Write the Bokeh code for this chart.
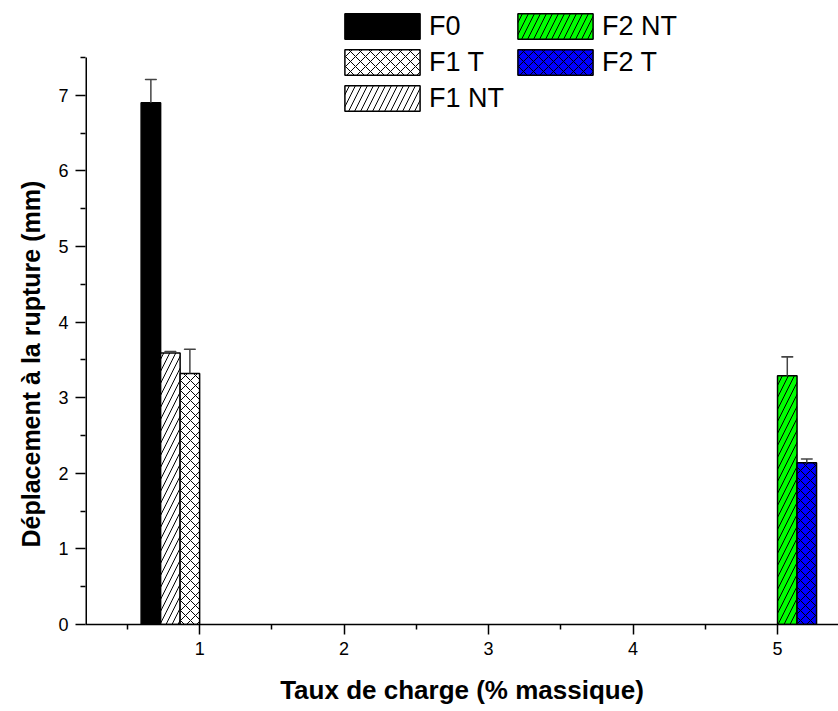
from bokeh.plotting import figure
from bokeh.models import ColumnDataSource, Legend, LegendItem, FixedTicker, Range1d, Title
from bokeh.embed import file_html
from bokeh.resources import INLINE

# ---- data ----
series = ["F0", "F1 NT", "F1 T", "F2 NT", "F2 T"]
taux = [1, 1, 1, 5, 5]
deplacement = [6.90, 3.59, 3.32, 3.29, 2.14]
erreur = [0.31, 0.02, 0.32, 0.25, 0.05]
x_ticks = [1, 2, 3, 4, 5]
y_ticks = [0, 1, 2, 3, 4, 5, 6, 7]
Y_AXIS_TOP = 7.5
x_title = "Taux de charge (% massique)"
y_title = "Déplacement à la rupture (mm)"

# ---- styles / layout ----
BAR_W = 0.135
X0 = 0.21
slot = {"F0": -2.5, "F1 NT": -1.5, "F1 T": -0.5, "F2 NT": 0.5, "F2 T": 1.5}
fills = {"F0": "black", "F1 NT": "white", "F1 T": "white", "F2 NT": "#00ff00", "F2 T": "#0000ff"}
hatch = {"F0": None, "F1 NT": "/", "F1 T": "x", "F2 NT": "/", "F2 T": "x"}
FONT = "Liberation Sans"

# frame reaches the top of the canvas so the legend is not clipped;
# the visible y axis line is drawn only up to Y_AXIS_TOP
p = figure(width=838, height=711, output_backend="svg", toolbar_location=None,
           x_range=Range1d(X0, 5.422), y_range=Range1d(0, 8.254),
           min_border_left=85, min_border_right=0, min_border_top=0, min_border_bottom=87)
p.outline_line_color = None
p.grid.visible = False
p.background_fill_color = "white"

renderers = {}
for s, t, v, e in zip(series, taux, deplacement, erreur):
    xc = t + slot[s] * BAR_W
    src = ColumnDataSource(dict(x=[xc], top=[v], err=[v + e]))
    kw = dict(x="x", top="top", bottom=0, width=BAR_W, source=src,
              fill_color=fills[s], line_color="black", line_width=1.5)
    if hatch[s]:
        kw.update(hatch_pattern=hatch[s], hatch_color="black", hatch_weight=1,
                  hatch_scale=10 if hatch[s] == "x" else 12)
    r = p.vbar(**kw)
    renderers[s] = r
    p.segment(x0="x", y0="top", x1="x", y1="err", source=src, line_color="#444444", line_width=1.5)
    p.rect(x="x", y="err", width=11, height=0.0001, width_units="screen", source=src,
           line_color="#444444", line_width=1.5, fill_color=None)

# y axis line only up to Y_AXIS_TOP (half of it is clipped at the frame edge)
p.segment(x0=[X0], y0=[0], x1=[X0], y1=[Y_AXIS_TOP], line_color="black", line_width=3)

# axes
for ax in (p.xaxis[0], p.yaxis[0]):
    ax.axis_line_width = 1.5
    ax.major_tick_line_width = 1.5
    ax.minor_tick_line_width = 1.5
    ax.major_tick_in = 0
    ax.major_tick_out = 10
    ax.minor_tick_in = 0
    ax.minor_tick_out = 5
    ax.major_label_text_font = FONT
    ax.major_label_text_font_size = "18px"
    ax.major_label_text_color = "black"
    ax.major_label_standoff = 7
p.yaxis.axis_line_color = None

p.xaxis.ticker = FixedTicker(ticks=x_ticks, minor_ticks=[0.5, 1.5, 2.5, 3.5, 4.5])
p.yaxis.ticker = FixedTicker(ticks=y_ticks, minor_ticks=[0.5, 1.5, 2.5, 3.5, 4.5, 5.5, 6.5, 7.5])
p.xaxis.axis_label = x_title
p.xaxis.axis_label_text_font = FONT
p.xaxis.axis_label_text_font_style = "bold"
p.xaxis.axis_label_text_font_size = "26px"
p.xaxis.axis_label_text_color = "black"
p.xaxis.axis_label_standoff = 17

# y title as a side title, starting near y = 1 like the reference
yt = Title(text=y_title, align="left", offset=77, standoff=22,
           text_font=FONT, text_font_style="bold", text_font_size="25px", text_color="black")
p.add_layout(yt, "left")

order = ["F0", "F1 T", "F1 NT", "F2 NT", "F2 T"]
legend = Legend(items=[LegendItem(label=s, renderers=[renderers[s]]) for s in order],
                location=(250, 510), nrows=3, orientation="vertical",
                glyph_width=94, glyph_height=32, label_height=32, label_standoff=0,
                spacing=4, padding=0, margin=0,
                label_text_font=FONT, label_text_font_size="27px", label_text_color="black",
                border_line_color=None, background_fill_alpha=0)
p.add_layout(legend, "center")

open("out.html", "w").write(file_html(p, INLINE))
